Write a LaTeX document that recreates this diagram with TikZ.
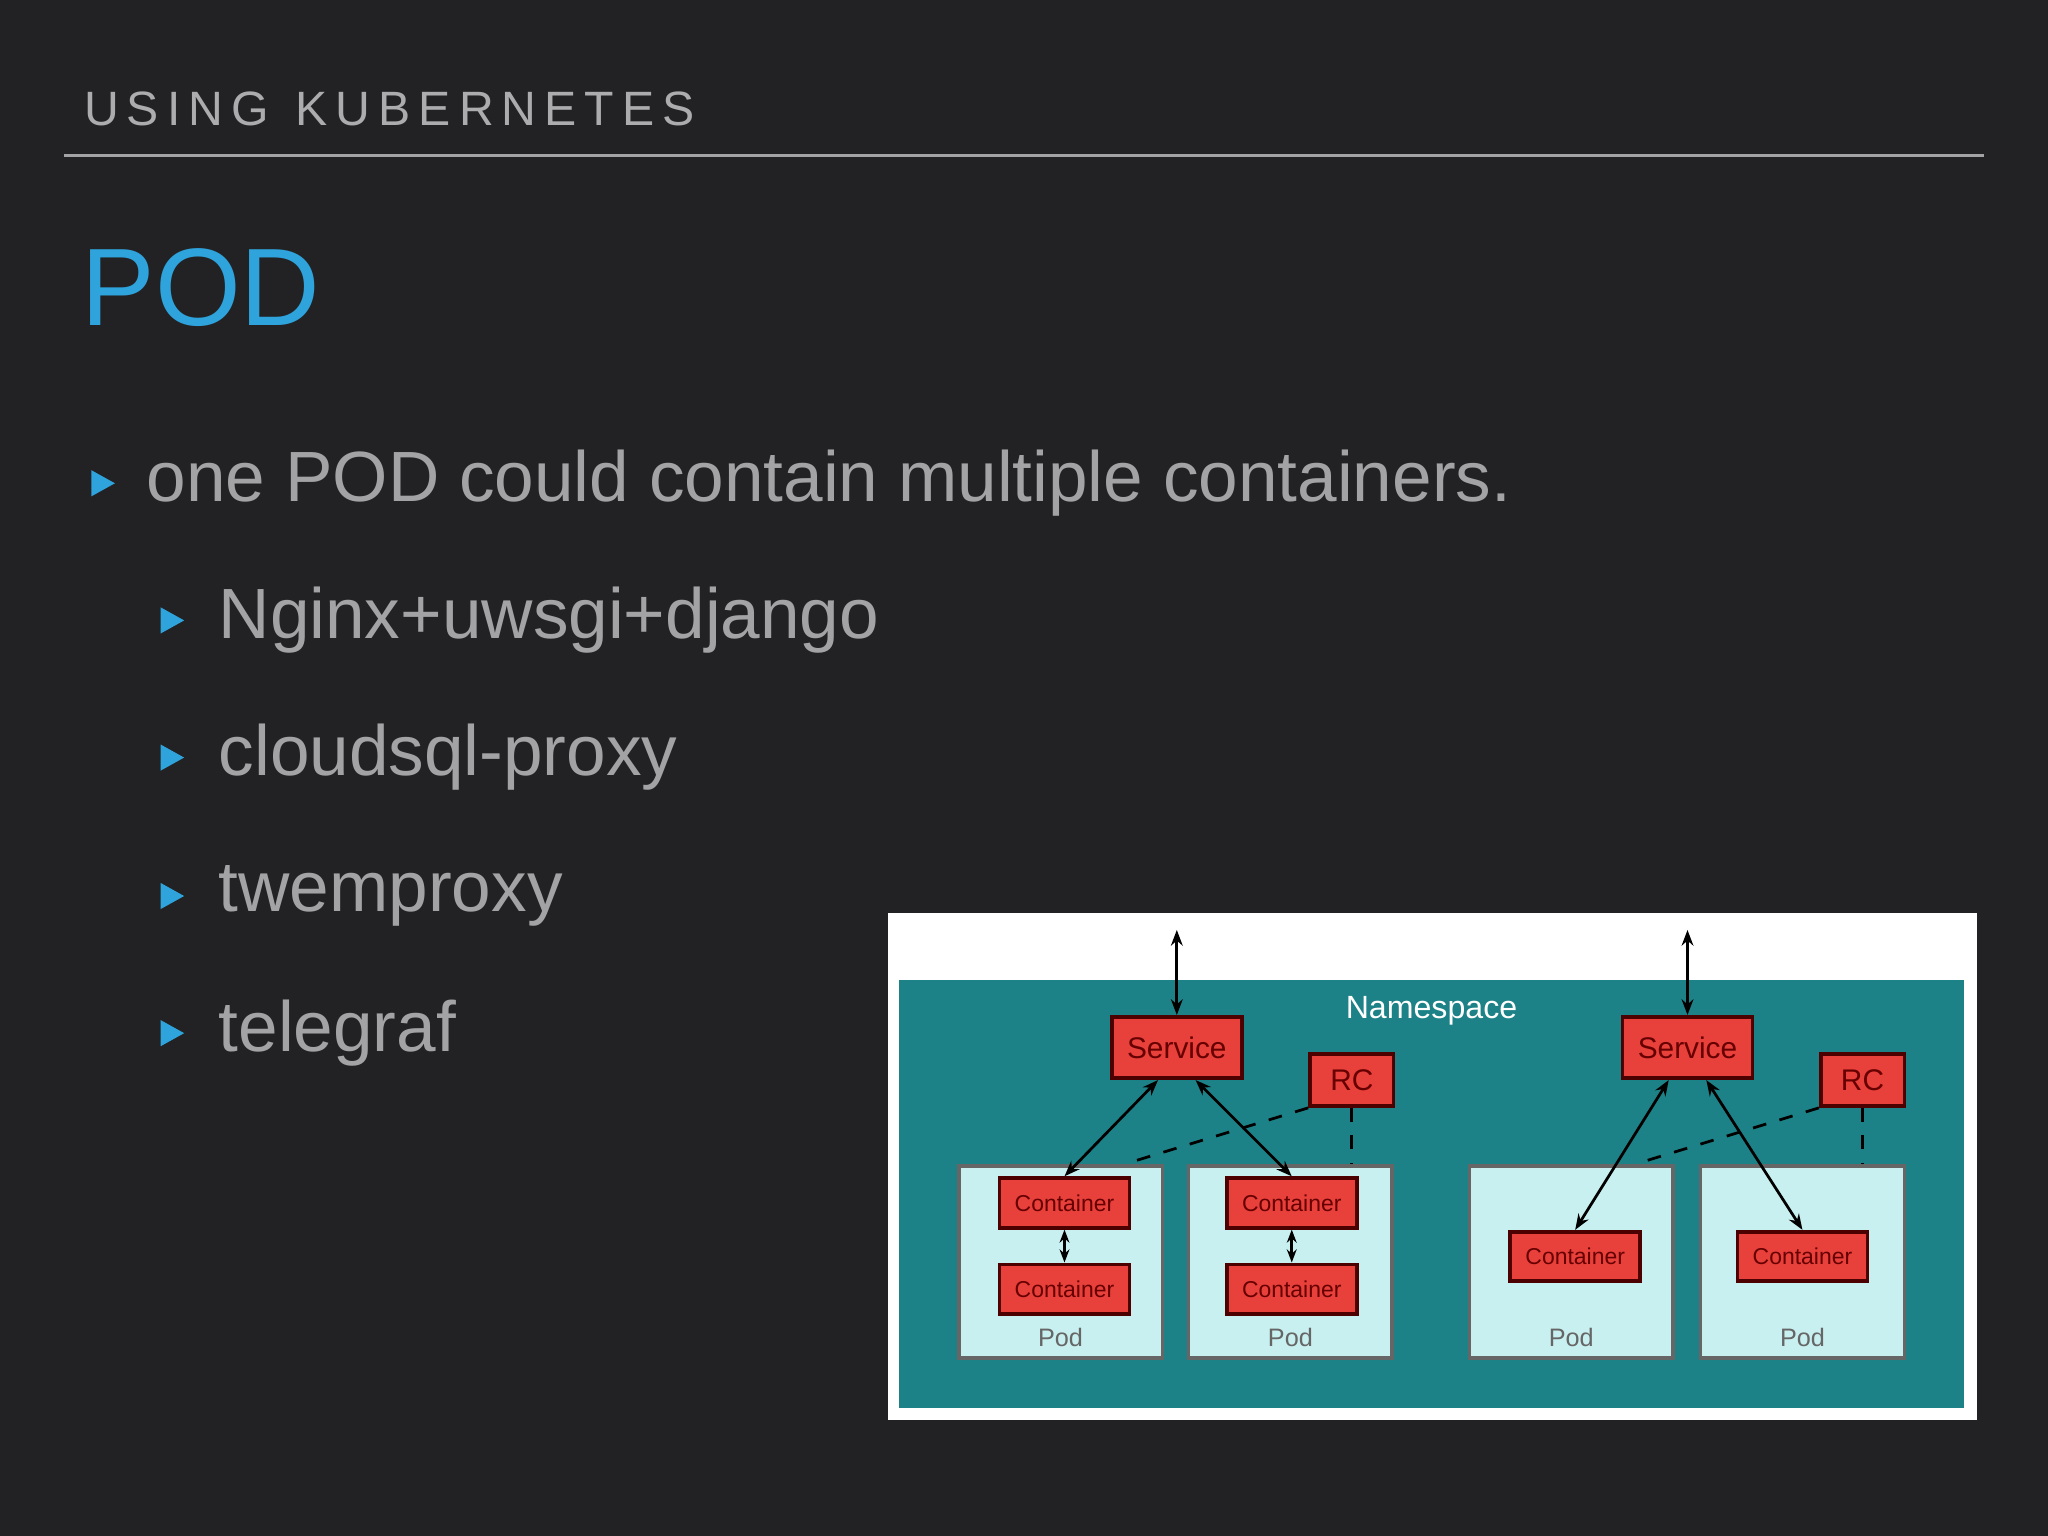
\documentclass[tikz,border=0pt]{standalone}
\usepackage{fontspec}
\setmainfont{Liberation Sans}
\usetikzlibrary{arrows.meta, positioning, calc}
\definecolor{slidebg}{HTML}{222224}
\definecolor{slidegray}{HTML}{A3A3A5}
\definecolor{slideblue}{HTML}{2EA3DC}
\definecolor{nsteal}{HTML}{1C8287}
\definecolor{boxred}{HTML}{E8403A}
\definecolor{podcyan}{HTML}{C8F0F0}

\begin{document}
\begin{tikzpicture}[x=0.1mm, y=-0.1mm]
    % --- Style Definitions ---
    \tikzset{
        bullet text/.style={font=\fontsize{15.5}{18}\selectfont, text=slidegray, anchor=west},
        bullet mark/.style={fill=slideblue, draw=none},
        red box/.style={fill=boxred, draw=black!70!red, thick, font=\fontsize{5}{6}\selectfont, text=black!60!red},
        pod box/.style={fill=podcyan, draw=black!60, thick, minimum width=15.6mm, minimum height=14.7mm},
        link arrow/.style={-{Stealth[length=1.2mm]}, semithick, black},
        rc link/.style={dashed, semithick, black}
    }

    % --- 1. Slide background ---
    \fill[slidebg] (0,0) rectangle (1568,1176);

    % --- 2. Header and title ---
    \node[anchor=west, text=slidegray!90!white, font=\fontsize{10.5}{12}\selectfont] (header) at (52,83) {U\,S\,I\,N\,G\ \ K\,U\,B\,E\,R\,N\,E\,T\,E\,S};
    \draw[slidegray, line width=0.6pt] (49,119) -- (1519,119);
    \node[anchor=west, text=slideblue, font=\fontsize{24}{28}\selectfont] (title) at (50,220) {POD};

    % --- 3. Bullets ---
    \fill[bullet mark] (70,360) -- (88,370) -- (70,380) -- cycle;
    \node[bullet text] (b0) at (100,370) {one POD could contain multiple containers.};
    \foreach \y/\txt in {475/Nginx+uwsgi+django, 580/cloudsql-proxy, 686/twemproxy, 791/telegraf}{
        \fill[bullet mark] (123,\y-10) -- (141,\y) -- (123,\y+10) -- cycle;
        \node[bullet text] at (155,\y) {\txt};
    }

    % --- 4. Picture frame and namespace ---
    \fill[white] (680,699) rectangle (1514,1087);
    \fill[nsteal] (688,750) rectangle (1504,1078);
    \node[text=white, font=\fontsize{7}{8}\selectfont] (ns) at (1096,774) {Namespace};

    % --- 5. Pods ---
    \foreach \x/\n in {812/p1, 988/p2, 1203/p3, 1380/p4}{
        \node[pod box] (\n) at (\x,966) {};
        \node[font=\fontsize{5.5}{6}\selectfont, text=black!60] at (\x,1024) {Pod};
    }

    % --- 6. Services and RCs ---
    \node[red box, minimum width=9mm, minimum height=4.7mm, font=\fontsize{6.5}{7}\selectfont] (svcA) at (901,802) {Service};
    \node[red box, minimum width=9mm, minimum height=4.7mm, font=\fontsize{6.5}{7}\selectfont] (svcB) at (1292,802) {Service};
    \node[red box, minimum width=6.4mm, minimum height=3mm, font=\fontsize{6.5}{7}\selectfont] (rcA) at (1035,827) {RC};
    \node[red box, minimum width=6.4mm, minimum height=3mm, font=\fontsize{6.5}{7}\selectfont] (rcB) at (1426,827) {RC};
    \coordinate (topA) at (901,712);
    \coordinate (topB) at (1292,712);

    % --- 7. Containers ---
    \node[red box, minimum width=7.2mm, minimum height=3.8mm] (c1a) at (815,921) {Container};
    \node[red box, minimum width=7.2mm, minimum height=3.8mm] (c1b) at (815,987) {Container};
    \node[red box, minimum width=7.2mm, minimum height=3.8mm] (c2a) at (989,921) {Container};
    \node[red box, minimum width=7.2mm, minimum height=3.8mm] (c2b) at (989,987) {Container};
    \node[red box, minimum width=7.2mm, minimum height=3.8mm] (c3) at (1206,962) {Container};
    \node[red box, minimum width=7.2mm, minimum height=3.8mm] (c4) at (1380,962) {Container};

    % --- 8. Connectors ---
    \draw[link arrow, {Stealth[length=1.2mm]}-{Stealth[length=1.2mm]}] (svcA.north) -- (topA);
    \draw[link arrow, {Stealth[length=1.2mm]}-{Stealth[length=1.2mm]}] (svcB.north) -- (topB);
    \draw[link arrow, {Stealth[length=1.2mm]}-{Stealth[length=1.2mm]}] (svcA.-120) -- (c1a.north);
    \draw[link arrow, {Stealth[length=1.2mm]}-{Stealth[length=1.2mm]}] (svcA.-60) -- (c2a.north);
    \draw[link arrow, {Stealth[length=1.2mm]}-{Stealth[length=1.2mm]}] (svcB.-120) -- (c3.north);
    \draw[link arrow, {Stealth[length=1.2mm]}-{Stealth[length=1.2mm]}] (svcB.-60) -- (c4.north);
    \draw[link arrow, {Stealth[length=1mm]}-{Stealth[length=1mm]}] (c1a) -- (c1b);
    \draw[link arrow, {Stealth[length=1mm]}-{Stealth[length=1mm]}] (c2a) -- (c2b);
    \draw[rc link] (rcA.south west) -- (865,890);
    \draw[rc link] (rcA.south) -- (p2.north -| rcA.south);
    \draw[rc link] (rcB.south west) -- (1256,890);
    \draw[rc link] (rcB.south) -- (p4.north -| rcB.south);
\end{tikzpicture}
\end{document}
